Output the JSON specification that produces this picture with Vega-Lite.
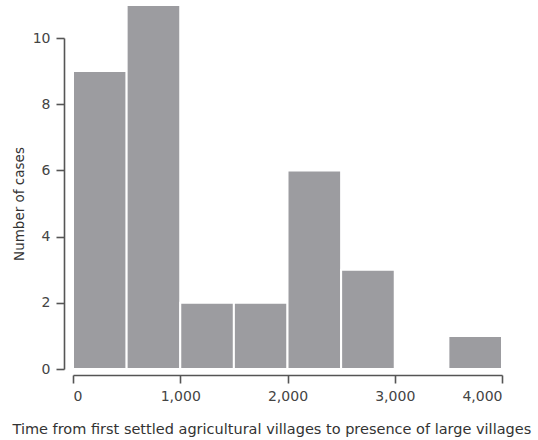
{
  "$schema": "https://vega.github.io/schema/vega-lite/v6.json",
  "autosize": {"type": "none"},
  "width": 429,
  "height": 331,
  "padding": {"left": 73, "top": 38, "right": 36, "bottom": 71},
  "background": "white",
  "config": {
    "view": {"stroke": null},
    "font": "DejaVu Sans",
    "axis": {"grid": false, "domainColor": "#555", "tickColor": "#555", "domainWidth": 1.6, "tickWidth": 1.6, "labelColor": "#444", "titleColor": "#333", "labelFont": "DejaVu Sans", "titleFont": "DejaVu Sans"}
  },
  "data": {"values": [
    {"start": 0, "end": 500, "count": 9},
    {"start": 500, "end": 1000, "count": 11},
    {"start": 1000, "end": 1500, "count": 2},
    {"start": 1500, "end": 2000, "count": 2},
    {"start": 2000, "end": 2500, "count": 6},
    {"start": 2500, "end": 3000, "count": 3},
    {"start": 3000, "end": 3500, "count": 0},
    {"start": 3500, "end": 4000, "count": 1}
  ]},
  "mark": {"type": "bar", "color": "#9c9ca0", "stroke": "white", "strokeWidth": 2, "clip": false},
  "encoding": {
    "x": {"field": "start", "type": "quantitative",
      "scale": {"domain": [0, 4000], "nice": false},
      "axis": {"values": [0, 1000, 2000, 3000, 4000], "format": ",d", "offset": 6, "tickSize": 8, "labelFontSize": 14, "labelPadding": 6,
        "title": "Time from first settled agricultural villages to presence of large villages",
        "titleFontSize": 14.5, "titleFontWeight": "normal", "titleAnchor": "start", "titleAlign": "left", "titleBaseline": "alphabetic", "titleX": -61, "titleY": 58}},
    "x2": {"field": "end"},
    "y": {"field": "count", "type": "quantitative",
      "scale": {"domain": [0, 10], "nice": false, "clamp": false},
      "axis": {"values": [0, 2, 4, 6, 8, 10], "offset": 9, "tickSize": 8, "labelFontSize": 14, "labelPadding": 6,
        "title": "Number of cases", "titleFontSize": 13.5, "titleFontWeight": "normal", "titlePadding": 6}},
    "y2": {"datum": 0}
  }
}
